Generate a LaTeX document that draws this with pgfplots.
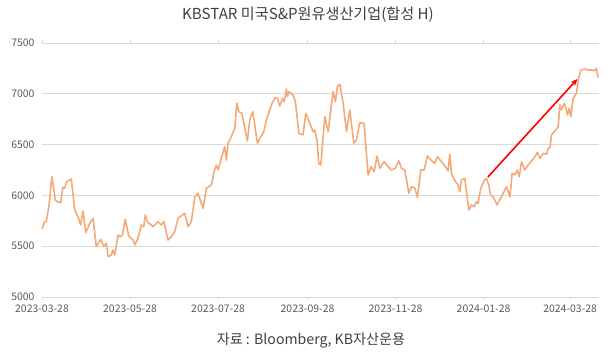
\documentclass[border=0pt]{standalone}
\usepackage{pgfplots}
\pgfplotsset{compat=1.18}
\usepackage{fontspec}
\setmainfont{Noto Sans CJK KR}
\usetikzlibrary{arrows.meta}
\definecolor{lineor}{RGB}{244,170,120}
\definecolor{gridc}{RGB}{217,217,217}
\definecolor{tickc}{RGB}{89,89,89}
\definecolor{titlec}{RGB}{64,64,64}
\begin{document}
\begin{tikzpicture}
\path[use as bounding box] (-42bp,-58bp) rectangle (570bp,297bp);
\begin{axis}[
  scale only axis,
  width=557bp, height=254bp,
  at={(0,0)}, anchor=south west,
  xmin=0, xmax=386, ymin=5000, ymax=7500,
  xtick={0,61,122,184,245,306,366},
  xticklabels={2023-03-28,2023-05-28,2023-07-28,2023-09-28,2023-11-28,2024-01-28,2024-03-28},
  ytick={5000,5500,6000,6500,7000,7500},
  ymajorgrids, grid style={gridc, line width=0.8bp},
  axis line style={draw=none},
  tick align=outside,
  xtick style={gridc, line width=0.8bp},
  major tick length=3bp,
  ytick style={draw=none},
  tick label style={font=\fontsize{10.5}{12}\selectfont, text=tickc},
  /pgf/number format/assume math mode=true,
  /pgf/number format/1000 sep={},
  yticklabel style={xshift=-1bp},
  xticklabel style={yshift=-1bp},
  clip=false,
]
\addplot[lineor, line width=1.6bp, line join=round] table {
x y
0 5670
1.9 5745
3.0 5741
4.9 5906
6.9 6184
9.2 5955
10.6 5938
13.0 5928
14.4 6080
15.7 6070
17.1 6135
20.3 6161
22.7 5856
25.0 5790
26.8 5709
28.4 5846
30.3 5633
33.1 5725
35.4 5775
37.6 5495
40.7 5568
42.8 5495
44.6 5529
45.8 5397
48.0 5413
49.2 5463
50.4 5413
52.7 5610
54.3 5594
55.7 5610
57.7 5765
60.1 5600
63.1 5561
64.3 5512
66.5 5578
68.8 5709
70.5 5692
71.6 5807
73.0 5741
76.9 5692
80.4 5741
82.7 5709
84.4 5741
85.8 5659
87.3 5561
89.6 5594
92.0 5643
94.3 5775
98.9 5824
101.2 5692
103.5 5741
105.9 5987
108.1 6021
111.6 5873
113.9 6070
117.4 6102
119.2 6233
120.8 6299
122.0 6250
123.9 6348
126.6 6479
127.8 6348
128.9 6513
131.2 6578
133.6 6660
135.0 6907
136.4 6824
138.6 6808
142.3 6535
144.0 6742
146.1 6824
149.3 6513
150.9 6562
153.7 6627
155.5 6742
159.4 6907
161.7 6962
163.1 6956
164.8 6880
166.6 6956
167.8 6922
169.4 7047
170.1 6972
171.2 7021
174.0 6988
175.6 6922
178.0 6611
180.9 6595
182.8 6808
187.9 6627
189.0 6644
190.6 6545
191.8 6316
193.2 6299
196.0 6775
198.3 6627
201.7 7021
203.3 6922
204.7 7070
206.4 7094
208.7 6907
211.0 6627
213.3 6841
216.1 6513
217.9 6545
220.2 6716
223.2 6710
226.0 6201
227.9 6283
230.2 6233
232.2 6388
234.1 6267
237.1 6332
239.8 6283
242.1 6250
244.9 6267
247.3 6342
249.1 6267
251.4 6250
254.2 6021
256.0 6086
258.4 6070
260.2 5981
262.5 6250
264.8 6250
267.1 6388
269.9 6342
272.2 6316
274.0 6381
276.8 6332
279.2 6289
281.4 6243
282.6 6408
283.7 6218
286.5 6135
288.4 6102
289.6 6036
290.7 6152
293.0 6168
295.8 5856
297.6 5906
299.5 5889
301.1 5938
302.2 5922
304.1 6070
306.4 6145
308.0 6168
309.6 6102
310.8 6004
312.6 5987
315.4 5906
318.4 5987
321.9 6086
324.3 5987
325.8 6218
327.7 6201
329.3 6250
330.7 6184
332.3 6332
334.6 6250
336.9 6299
339.2 6339
341.6 6381
343.4 6424
345.1 6365
347.3 6414
349.6 6405
350.8 6464
352.0 6470
353.1 6595
355.5 6634
357.7 6676
358.9 6890
360.0 6841
362.1 6907
364.2 6791
365.3 6857
366.5 6775
368.1 6956
370.4 7005
371.6 7136
373.4 7234
376.2 7244
378.5 7234
380.8 7234
382.7 7227
384.2 7251
385.4 7159
};
\addplot[red, line width=1.6bp, -{Stealth[length=7bp,width=6bp]}] coordinates {(309,6181) (371,7145)};
\end{axis}
\node[text=titlec, font=\fontsize{15.2}{17}\selectfont] at (266bp,282bp) {KBSTAR 미국S\&P원유생산기업(합성 H)};
\node[text=titlec, font=\fontsize{14.2}{16}\selectfont] at (269bp,-43bp) {자료 : Bloomberg, KB자산운용};
\end{tikzpicture}
\end{document}
